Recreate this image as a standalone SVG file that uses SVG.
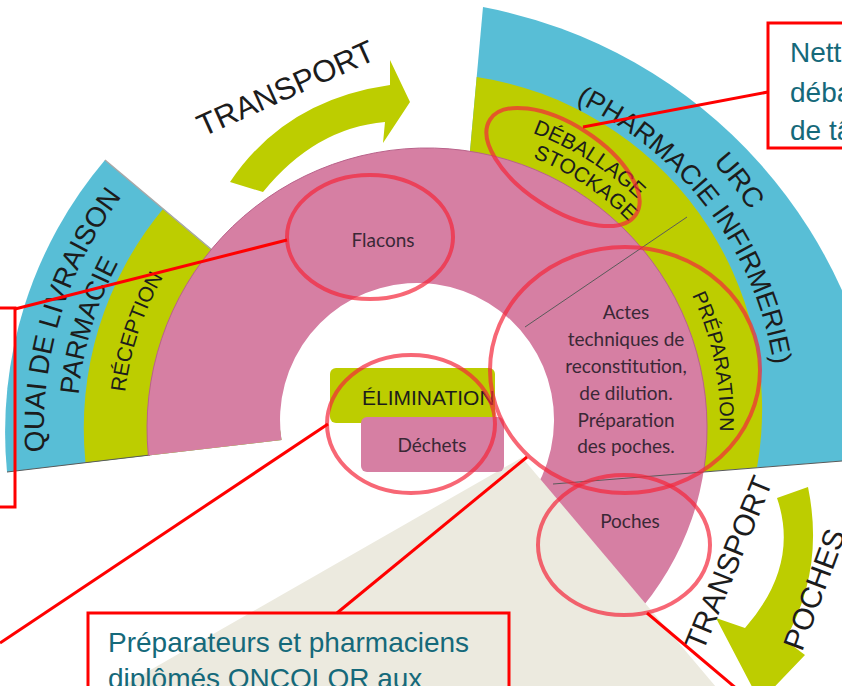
<svg xmlns="http://www.w3.org/2000/svg" width="842" height="686" viewBox="0 0 842 686">
<style>
.blue{fill:#58BED6}
.green{fill:#BDCD00}
.pink{fill:#D67FA3}
.sec{font-family:"Liberation Sans",Arial,sans-serif;fill:#1c1c1c}
.lbl{font-family:Lato,"Liberation Sans",sans-serif;fill:#3a2836;font-size:19px;text-anchor:middle}
.call{fill:none;stroke:#FF0000;stroke-width:3}
.ring{fill:none;stroke:#F3263A;stroke-opacity:0.7;stroke-width:4}
.note{font-family:"Liberation Sans",Arial,sans-serif;fill:#15697A;font-size:28px}
.edge{stroke:#5a5a5a;stroke-width:1;fill:none}
</style>
<defs>
<path id="p-quai" d="M 63.1,547.6 A 383 383 0 0 1 190.2,127.0"/>
<path id="p-parm" d="M 94.5,537.3 A 350 350 0 0 1 210.6,152.9"/>
<path id="p-recep" d="M 135.8,515.4 A 304 304 0 0 1 245.3,184.3"/>
<path id="p-urc" d="M 574.3,64.3 A 385 385 0 0 1 808.7,369.8"/>
<path id="p-pharm" d="M 506.0,78.0 A 351 351 0 0 1 777.5,438.4"/>
<path id="p-deb" d="M 434.0,113.6 A 307 307 0 0 1 697.6,279.6"/>
<path id="p-stock" d="M 445.5,137.6 A 283 283 0 0 1 680.8,294.8"/>
<path id="p-prep" d="M 646.4,225.9 A 293 293 0 0 1 704.9,513.0"/>
</defs>
<rect width="842" height="686" fill="#ffffff"/>

<g id="quai-livraison">
<path class="blue" d="M 281.5,440 L 7,472 A 420 420 0 0 1 105,160 L 260,290 Z"/>
<path class="green" d="M 281.5,440 L 85.5,462.8 A 343 343 0 0 1 163.2,208.8 L 260,290 Z"/>
<line x1="105" y1="160" x2="212" y2="250" stroke="#a8a8a8" stroke-width="1.5"/>
<line class="edge" x1="7" y1="472" x2="150" y2="455"/>
<text class="sec" font-size="28"><textPath href="#p-quai" startOffset="50%" text-anchor="middle">QUAI DE LIVRAISON</textPath></text>
<text class="sec" font-size="27"><textPath href="#p-parm" startOffset="50%" text-anchor="middle">PARMACIE</textPath></text>
<text class="sec" font-size="21"><textPath href="#p-recep" startOffset="50%" text-anchor="middle">RÉCEPTION</textPath></text>
</g>

<g id="urc">
<path class="blue" d="M 483,7 A 494 494 0 0 1 884,457.7 L 700,472 L 470,151 Z"/>
<path class="green" d="M 476.7,77 A 336 336 0 0 1 757,467.6 L 700,472 L 470,151 Z"/>
<text class="sec" font-size="28"><textPath href="#p-urc" startOffset="50%" text-anchor="middle">URC</textPath></text>
<text class="sec" font-size="27"><textPath href="#p-pharm" startOffset="50%" text-anchor="middle">(PHARMACIE INFIRMERIE)</textPath></text>
<text class="sec" font-size="21"><textPath href="#p-deb" startOffset="50%" text-anchor="middle">DÉBALLAGE</textPath></text>
<text class="sec" font-size="21"><textPath href="#p-stock" startOffset="50%" text-anchor="middle">STOCKAGE</textPath></text>
<text class="sec" font-size="20"><textPath href="#p-prep" startOffset="50%" text-anchor="middle">PRÉPARATION</textPath></text>
</g>

<g id="pink-ring">
<path class="pink" d="M 148.4,455.6 A 280 280 0 1 1 402.6,706.9 L 405.1,556.5 A 137 137 0 1 0 281.5,440 Z"/>
<path d="M 148.4,455.6 A 280 280 0 1 1 703.8,470.4" fill="none" stroke="#b9628a" stroke-width="1"/>
<line class="edge" x1="525" y1="327" x2="687" y2="217"/>
<line class="edge" x1="553" y1="484" x2="842" y2="461"/>
<text class="lbl" x="383" y="247">Flacons</text>
<text class="lbl" x="626" y="319">Actes</text>
<text class="lbl" x="626" y="346">techniques de</text>
<text class="lbl" x="626" y="373">reconstitution,</text>
<text class="lbl" x="626" y="400">de dilution.</text>
<text class="lbl" x="626" y="427">Préparation</text>
<text class="lbl" x="626" y="453">des poches.</text>
<text class="lbl" x="630" y="528">Poches</text>
</g>

<g id="zoom-wedge">
<path d="M 522,457.4 L 98,700 L 727,700 Z" fill="#ECEADF"/>
</g>

<g id="elimination">
<rect x="330" y="368" width="165" height="55" rx="6" class="green"/>
<text class="sec" x="362" y="405" font-size="21">ÉLIMINATION</text>
<rect x="361" y="417" width="143" height="55" rx="6" class="pink"/>
<text class="lbl" x="432" y="452">Déchets</text>
</g>

<g id="transport-top">
<path class="green" d="M 230,182 Q 285,100 390,85 L 390,60 L 410,102 L 383,143 L 385,122 Q 315,128 263,192 Z"/>
<text class="sec" font-size="31" text-anchor="middle" transform="translate(290,98) rotate(-24.2)">TRANSPORT</text>
</g>

<g id="transport-poches">
<path class="green" d="M 777,498 L 808,487 Q 825,570 785,640 L 805,655 L 760,702 L 716,618 L 745,628 Q 800,565 777,498 Z"/>
<text class="sec" font-size="30" text-anchor="middle" transform="translate(738,567) rotate(-67.7)">TRANSPORT</text>
<text class="sec" font-size="30" text-anchor="middle" transform="translate(824,593) rotate(-69.6)">POCHES</text>
</g>

<g id="highlights">
<ellipse class="ring" cx="370" cy="237" rx="83" ry="62"/>
<ellipse class="ring" cx="563" cy="167" rx="87" ry="42" transform="rotate(33 563 167)"/>
<ellipse class="ring" cx="625" cy="370" rx="135" ry="123"/>
<ellipse class="ring" cx="411" cy="424" rx="84" ry="69"/>
<ellipse class="ring" cx="624" cy="545" rx="86" ry="70"/>
</g>

<g id="connectors">
<line class="call" x1="15" y1="309" x2="287" y2="240"/>
<line class="call" x1="328" y1="424" x2="0" y2="643"/>
<line class="call" x1="527" y1="457" x2="337" y2="613"/>
<line class="call" x1="647" y1="613" x2="750" y2="700"/>
<line class="call" x1="583" y1="127" x2="768" y2="92"/>
</g>

<g id="note-left">
<rect class="call" x="-10" y="308" width="25" height="199"/>
</g>
<g id="note-top">
<rect class="call" x="768" y="23" width="90" height="125"/>
<text class="note" x="790" y="62" font-size="27.5">Nett</text>
<text class="note" x="790" y="102" font-size="27.5">déba</text>
<text class="note" x="790" y="140" font-size="27.5">de tâ</text>
</g>
<g id="note-bottom">
<rect class="call" x="88" y="613" width="421" height="100"/>
<text class="note" x="108" y="652">Préparateurs et pharmaciens</text>
<text class="note" x="108" y="688">diplômés ONCOLOR aux</text>
</g>
</svg>
